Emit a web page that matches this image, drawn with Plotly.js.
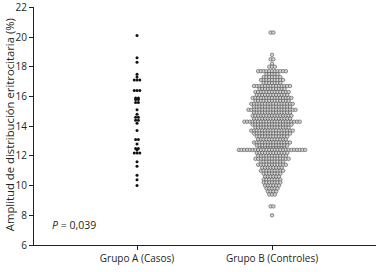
<!DOCTYPE html>
<html>
<head>
<meta charset="utf-8">
<script src="https://cdn.plot.ly/plotly-3.0.1.min.js"></script>
<style>html,body{margin:0;padding:0;background:#fff}#chart{width:382px;height:272px}</style>
</head>
<body>
<div id="chart"></div>
<script>
// Categories
const categories = ["Grupo A (Casos)", "Grupo B (Controles)"];
// Group A individual values (%)
const groupAValues = [20.1, 18.6, 18.3, 17.5, 17.3, 17.1, 17.1, 17.1, 16.4, 16.4, 16.4,
  15.9, 15.9, 15.8, 15.8, 15.6, 15.6, 15.1, 14.8, 14.6, 14.6, 14.4, 14.4, 14.2,
  13.7, 13.1, 13.1, 12.8, 12.5, 12.5, 12.4, 12.2, 12.2, 12.2, 11.6, 11.3, 10.7, 10.4, 10.0];
// Group B: distinct values and how many controls share each value
const groupBLevels = [20.3, 18.8, 18.5, 18.2, 18.0, 17.7, 17.5, 17.3, 17.1, 16.9, 16.7, 16.5,
  16.3, 16.1, 15.9, 15.7, 15.5, 15.3, 15.1, 14.9, 14.7, 14.5, 14.3, 14.1, 13.9, 13.7,
  13.5, 13.3, 13.1, 12.9, 12.7, 12.5, 12.4, 12.2, 12.0, 11.8, 11.6, 11.4, 11.2, 11.0,
  10.8, 10.6, 10.4, 10.2, 10.0, 9.8, 9.6, 9.4, 8.6, 8.0];
const groupBCounts = [2, 1, 2, 1, 3, 11, 5, 7, 9, 7, 14, 10,
  13, 12, 15, 13, 16, 14, 18, 14, 15, 14, 21, 15, 13, 16,
  14, 12, 11, 14, 12, 10, 25, 12, 11, 13, 9, 11, 8, 9,
  7, 6, 7, 7, 6, 5, 4, 3, 2, 1];
const yTicks = [6, 8, 10, 12, 14, 16, 18, 20, 22];
const yTitle = "Amplitud de distribución eritrocitaria (%)";
const pLabel = "<i>P</i> = 0,039";

// beeswarm layout helpers
const spacing = 0.0205;
function swarmFromValues(vals, center) {
  const groups = {};
  vals.forEach(v => { (groups[v] = groups[v] || []).push(v); });
  const xs = [], ys = [];
  Object.keys(groups).forEach(k => {
    const n = groups[k].length;
    for (let i = 0; i < n; i++) { xs.push(center + (i - (n - 1) / 2) * spacing); ys.push(+k); }
  });
  return {xs, ys};
}
function swarmFromCounts(levels, counts, center) {
  const xs = [], ys = [];
  levels.forEach((v, j) => {
    const n = counts[j];
    for (let i = 0; i < n; i++) { xs.push(center + (i - (n - 1) / 2) * spacing); ys.push(v); }
  });
  return {xs, ys};
}
const a = swarmFromValues(groupAValues, 0);
const b = swarmFromCounts(groupBLevels, groupBCounts, 1);

const font = {family: "Open Sans, Liberation Sans, sans-serif", size: 10, color: "#231f20"};

const traces = [
  {x: a.xs, y: a.ys, type: "scatter", mode: "markers", name: categories[0],
   marker: {size: 3, color: "#111"}, hoverinfo: "y"},
  {x: b.xs, y: b.ys, type: "scatter", mode: "markers", name: categories[1],
   marker: {size: 3.5, color: "#d4d4d4", line: {color: "#4a4a4a", width: 0.6}}, hoverinfo: "y"}
];

const layout = {
  width: 382, height: 272,
  margin: {l: 34, r: 6, t: 7, b: 27},
  paper_bgcolor: "#fff", plot_bgcolor: "#fff",
  showlegend: false,
  font: font,
  xaxis: {
    range: [-0.763, 1.77], tickvals: [0, 1], ticktext: categories,
    showgrid: false, zeroline: false, showline: true, linecolor: "#231f20", linewidth: 1,
    ticks: "outside", ticklen: 4, tickcolor: "#231f20", tickfont: {size: 10}
  },
  yaxis: {
    range: [6, 22.02], tickvals: yTicks, ticktext: yTicks.map(String),
    showgrid: false, zeroline: false, showline: true, linecolor: "#231f20", linewidth: 1,
    ticks: "outside", ticklen: 4, tickcolor: "#231f20", tickfont: {size: 10},
    ticklabeloverflow: "allow"
  },
  annotations: [
    {x: -0.645, y: 7.35, xref: "x", yref: "y", xanchor: "left", yanchor: "middle",
     text: pLabel, showarrow: false, font: {size: 10.5}},
    {x: -0.072, y: 0.505, xref: "paper", yref: "paper", xanchor: "center", yanchor: "middle",
     text: yTitle, textangle: -90, showarrow: false, font: {size: 11.3}}
  ]
};
Plotly.newPlot("chart", traces, layout, {displayModeBar: false, staticPlot: true});
</script>
</body>
</html>
